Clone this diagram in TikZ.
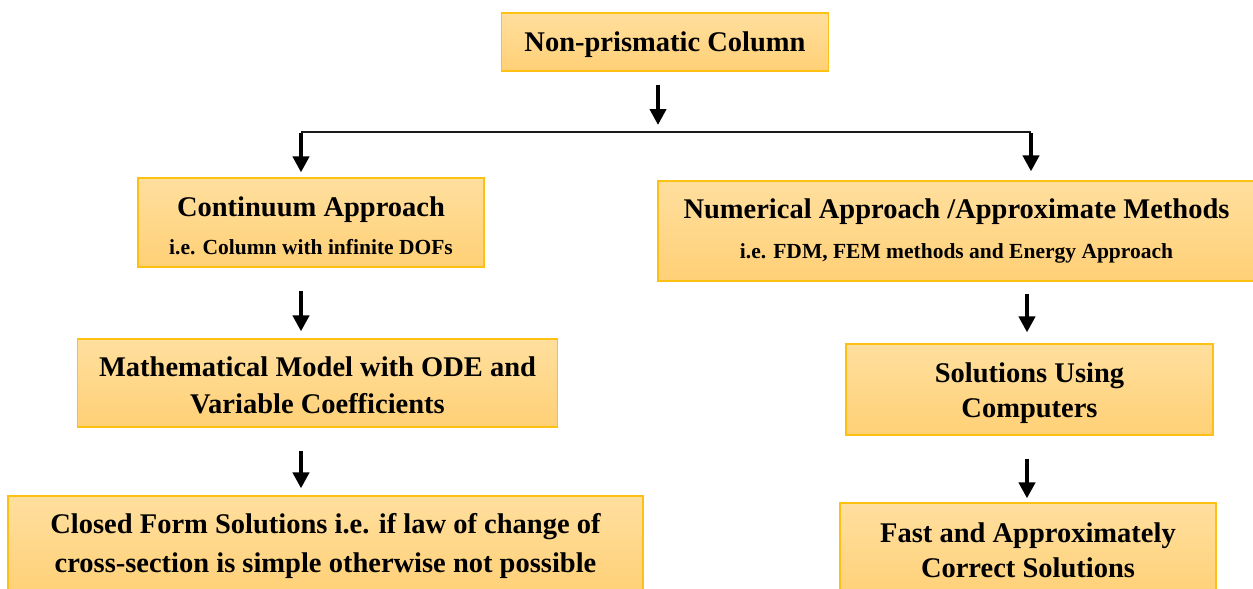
\documentclass[tikz,border=0pt]{standalone}
\usepackage{fontspec}
\setmainfont{Liberation Serif}
\usetikzlibrary{arrows.meta}
\definecolor{boxtop}{RGB}{255,223,158}
\definecolor{boxbot}{RGB}{255,208,118}
\definecolor{boxline}{RGB}{255,192,20}
\tikzset{
  flowbox/.style={draw=boxline, line width=1.2pt, top color=boxtop, bottom color=boxbot,
    inner sep=0pt, align=center, font=\bfseries\fontsize{28.5}{#1}\selectfont},
  flowbox/.default=36,
  arr/.style={line width=4pt, -{Triangle[width=16pt,length=16pt]}},
  barline/.style={line width=2.6pt, black!90}
}
\newcommand{\subline}[1]{{\fontsize{21.5}{36}\selectfont #1}}
\newcommand{\hstrut}[1]{\rule{0pt}{#1pt}}
\newcommand{\dstrut}[1]{\rule[-#1pt]{0pt}{#1pt}}
\begin{document}
\begin{tikzpicture}[x=1pt,y=-1pt]
\useasboundingbox[fill=white] (0,0) rectangle (1253,589);
% boxes
\node[flowbox, minimum width=327pt, minimum height=58pt] (top) at (665,42) {\hstrut{26}Non-prismatic Column};
\node[flowbox=38, minimum width=346pt, minimum height=89pt] (cont) at (311,222.5)
  {\hstrut{27}Continuum Approach\\ \subline{i.e. Column with infinite DOFs}};
\node[flowbox=40, minimum width=597pt, minimum height=100pt] (num) at (956.5,231)
  {Numerical Approach /Approximate Methods\\ \subline{i.e. FDM, FEM methods and Energy Approach}};
\node[flowbox=37, minimum width=480pt, minimum height=88pt] (math) at (317.5,383)
  {\hstrut{24}Mathematical Model with ODE and\\ Variable Coefficients};
\node[flowbox=39, minimum width=635pt, minimum height=100pt] (closed) at (325.5,546)
  {Closed Form Solutions i.e. if law of change of\\ cross-section is simple otherwise not possible};
\node[flowbox=35, minimum width=367pt, minimum height=91pt] (sol) at (1029.5,389.5)
  {\hstrut{27}Solutions Using\\ Computers};
\node[flowbox=35, minimum width=376pt, minimum height=98pt] (fast) at (1028,552)
  {Fast and Approximately\\ Correct Solutions\dstrut{4}};
% branch coordinates
\coordinate (barM) at (658,132);
\coordinate (barL) at (301,132);
\coordinate (barR) at (1031,132);
\coordinate (colL) at (301,0);
\coordinate (colR) at (1027,0);
% connectors
\draw[arr, shorten <=13pt, shorten >=7pt] (top.south -| barM) -- (barM);
\draw[barline] (barL) -- (barR);
\draw[arr, shorten >=5pt] ([yshift=-1.3pt]barL) -- (barL |- cont.north);
\draw[arr, shorten >=9pt] ([yshift=-1.3pt]barR) -- (barR |- num.north);
\draw[arr, shorten <=23pt, shorten >=7pt] (cont.south -| colL) -- (math.north -| colL);
\draw[arr, shorten <=23pt, shorten >=7pt] (math.south -| colL) -- (closed.north -| colL);
\draw[arr, shorten <=12pt, shorten >=11pt] (num.south -| colR) -- (sol.north -| colR);
\draw[arr, shorten <=23pt, shorten >=4pt] (sol.south -| colR) -- (fast.north -| colR);
\end{tikzpicture}
\end{document}
